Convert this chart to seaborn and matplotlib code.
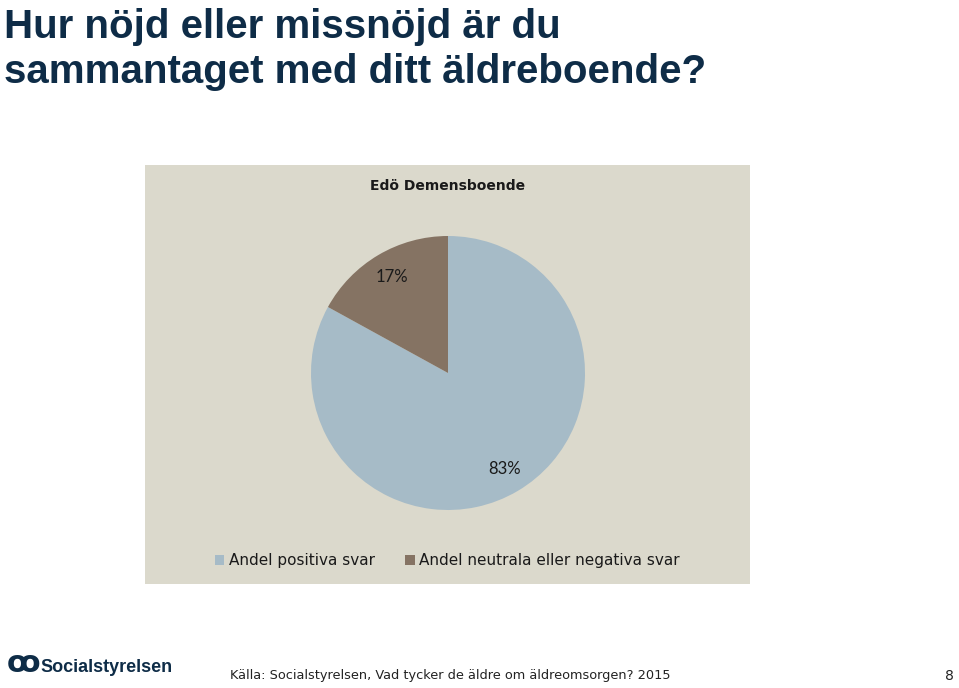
import matplotlib
matplotlib.use("Agg")
import matplotlib.pyplot as plt
import seaborn as sns

sns.set_theme(style="white")
plt.rcParams['font.family'] = ['DejaVu Sans']

# Data
categories = ["Andel positiva svar", "Andel neutrala eller negativa svar"]
values = [83, 17]
colors = ["#A6BBC7", "#857363"]
chart_title = "Edö Demensboende"
title_lines = ["Hur nöjd eller missnöjd är du", "sammantaget med ditt äldreboende?"]
source_text = "Källa: Socialstyrelsen, Vad tycker de äldre om äldreomsorgen? 2015"
page_no = "8"

W, H = 959, 688
fig = plt.figure(figsize=(W / 100, H / 100), dpi=100)
fig.patch.set_facecolor("white")

def fx(x):
    return x / W

def fy(y):
    return 1 - y / H

# Main title
for y, line in zip([27, 72], title_lines):
    fig.text(fx(4), fy(y), line, ha="left", va="center", fontsize=29,
             fontweight="bold", color="#0E2C47",
             family=["Liberation Sans", "DejaVu Sans"])

# Chart panel background
panel = fig.add_axes([fx(145), fy(584), (750 - 145) / W, (584 - 165) / H])
panel.set_facecolor("#DBD9CC")
panel.set_xticks([]); panel.set_yticks([])
for s in panel.spines.values():
    s.set_visible(False)
panel.text(0.5, 1 - (186 - 165) / (584 - 165), chart_title,
           transform=panel.transAxes, ha="center", va="center",
           fontsize=10, fontweight="bold", color="#1a1a1a")

# Pie axes
cx, cy, r = 448, 373, 137
ax = fig.add_axes([fx(cx - r), fy(cy + r), 2 * r / W, 2 * r / H])
ax.set_facecolor("none")
wedges, texts, autotexts = ax.pie(
    values, colors=colors, startangle=90, counterclock=False,
    autopct=lambda p: f"{p:.0f}%", pctdistance=0.81,
    wedgeprops=dict(linewidth=0),
    textprops=dict(fontsize=12, color="#1a1a1a",
                   family=["Lato", "DejaVu Sans"]))
for t in autotexts:
    t.set_color("#1a1a1a")
ax.set_xlim(-1, 1); ax.set_ylim(-1, 1)
ax.set_aspect("auto")
ax.axis("off")

# Legend
leg = panel.legend(wedges, categories, loc="center",
                   bbox_to_anchor=(0.5, 1 - (561 - 165) / (584 - 165)),
                   ncol=2, frameon=False, fontsize=11, handlelength=0.6,
                   handleheight=0.6, handletextpad=0.3, columnspacing=2.0,
                   labelcolor="#1a1a1a")

# Footer
fig.text(fx(7), fy(664), "ꝏ", ha="left", va="center", fontsize=22,
         fontweight="bold", color="#0E2C47")
fig.text(fx(40), fy(667), "Socialstyrelsen", ha="left", va="center",
         fontsize=13, fontweight="bold", color="#0E2C47",
         family=["Liberation Sans Narrow", "Liberation Sans", "DejaVu Sans"])
fig.text(fx(230), fy(676), source_text, ha="left", va="center",
         fontsize=9.3, color="#222222")
fig.text(fx(954), fy(676), page_no, ha="right", va="center",
         fontsize=10, color="#222222")

fig.savefig("out.png", dpi=100)
